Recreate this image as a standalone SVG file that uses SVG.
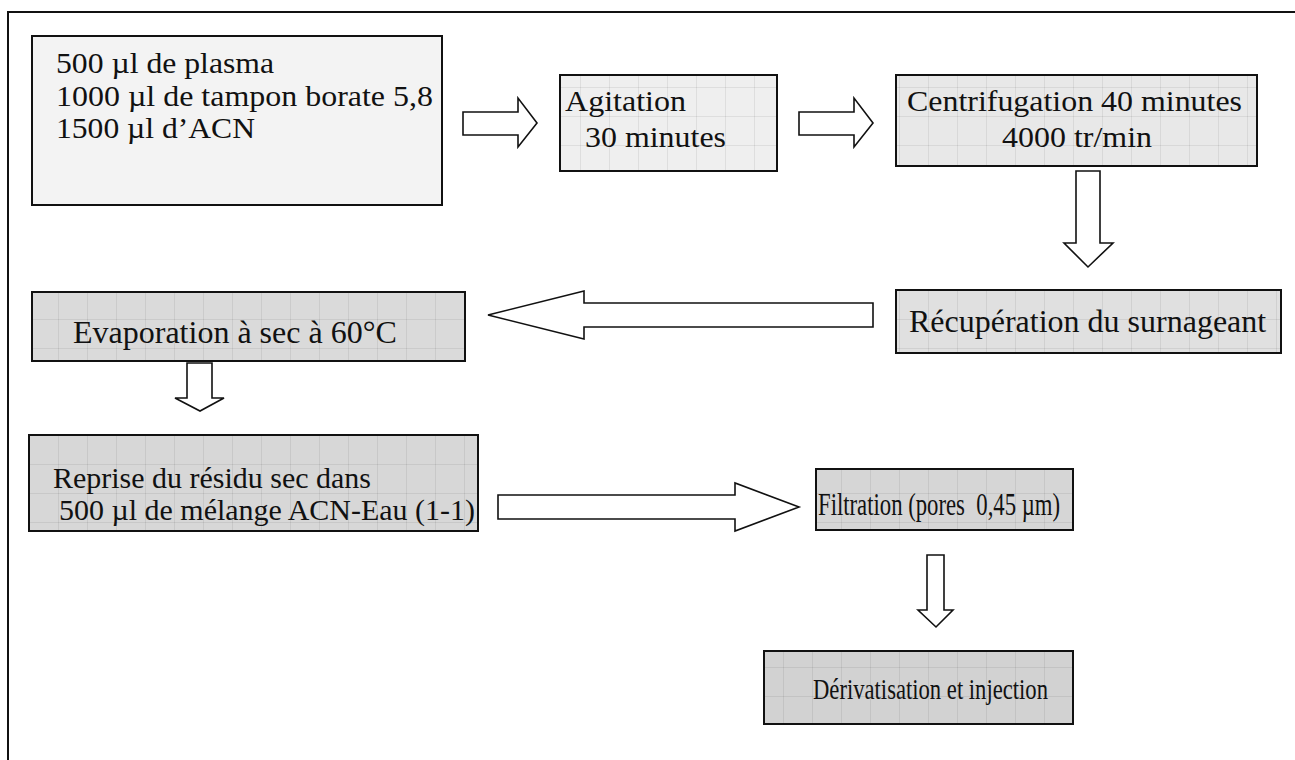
<svg xmlns="http://www.w3.org/2000/svg" width="1295" height="760" viewBox="0 0 1295 760">
  <defs>
    <!-- faint "small grid" fill texture used inside the step boxes -->
    <pattern id="grid" patternUnits="userSpaceOnUse" width="29" height="29">
      <path d="M0 0.5 H29 M0.5 0 V29" fill="none" stroke="#000" stroke-opacity="0.07" stroke-width="1"/>
    </pattern>
    <style>
      .box { stroke: #111; stroke-width: 2; }
      .grid { fill: url(#grid); stroke: none; }
      .arrow { fill: #fff; stroke: #111; stroke-width: 1.6; stroke-linejoin: miter; }
      .lbl { font-family: "Liberation Serif", "Times New Roman", serif; font-size: 32px; fill: #111; }
      .ml { font-size: 29px; }
    </style>
  </defs>

  <rect width="1295" height="760" fill="#fff"/>
  <!-- page frame -->
  <rect x="8" y="12" width="1300" height="760" fill="none" stroke="#111" stroke-width="2"/>

  <g id="connectors">
    <polygon class="arrow" points="463,112 518,112 518,98 537,123 518,147 518,135 463,135"/>
    <polygon class="arrow" points="799,112 854,112 854,98 873,123 854,147 854,135 799,135"/>
    <polygon class="arrow" points="1076,171 1100,171 1100,243 1113,243 1088,267 1064,243 1076,243"/>
    <polygon class="arrow" points="873,303 873,327 584,327 584,339 488,315 584,291 584,303"/>
    <polygon class="arrow" points="187,363 212,363 212,398 224,398 200,411 175,398 187,398"/>
    <polygon class="arrow" points="498,495 735,495 735,483 799,507 735,531 735,519 498,519"/>
    <polygon class="arrow" points="927,555 944,555 944,610 953,610 936,627 918,610 927,610"/>
  </g>

  <g id="mix">
    <rect class="box" x="32" y="36" width="410" height="169" fill="#f3f3f3"/>
    <text class="lbl ml" x="56" y="73" textLength="218" lengthAdjust="spacingAndGlyphs">500 µl de plasma</text>
    <text class="lbl ml" x="56" y="106" textLength="377" lengthAdjust="spacingAndGlyphs">1000 µl de tampon borate 5,8</text>
    <text class="lbl ml" x="56" y="138" textLength="199" lengthAdjust="spacingAndGlyphs">1500 µl d’ACN</text>
  </g>

  <g id="agitation">
    <rect class="box" x="560" y="75" width="217" height="96" fill="#efefef"/>
    <rect class="grid" x="561" y="76" width="215" height="94"/>
    <text class="lbl ml" x="565" y="111" textLength="121" lengthAdjust="spacingAndGlyphs">Agitation</text>
    <text class="lbl ml" x="585" y="147" textLength="141" lengthAdjust="spacingAndGlyphs">30 minutes</text>
  </g>

  <g id="centrifugation">
    <rect class="box" x="896" y="75" width="361" height="91" fill="#e8e8e8"/>
    <rect class="grid" x="897" y="76" width="359" height="89"/>
    <text class="lbl ml" x="907" y="111" textLength="335" lengthAdjust="spacingAndGlyphs">Centrifugation 40 minutes</text>
    <text class="lbl ml" x="1002" y="147" textLength="150" lengthAdjust="spacingAndGlyphs">4000 tr/min</text>
  </g>

  <g id="supernatant">
    <rect class="box" x="896" y="290" width="385" height="63" fill="#e0e0e0"/>
    <rect class="grid" x="897" y="291" width="383" height="61"/>
    <text class="lbl" x="909" y="332">Récupération du surnageant</text>
  </g>

  <g id="evaporation">
    <rect class="box" x="32" y="292" width="433" height="69" fill="#dadada"/>
    <rect class="grid" x="33" y="293" width="431" height="67"/>
    <text class="lbl" x="73" y="343">Evaporation à sec à 60°C</text>
  </g>

  <g id="reprise">
    <rect class="box" x="29" y="435" width="449" height="96" fill="#d7d7d7"/>
    <rect class="grid" x="30" y="436" width="447" height="94"/>
    <text class="lbl ml" x="53" y="488" textLength="318" lengthAdjust="spacingAndGlyphs">Reprise du résidu sec dans</text>
    <text class="lbl ml" x="59" y="520" textLength="416" lengthAdjust="spacingAndGlyphs">500 µl de mélange ACN-Eau (1-1)</text>
  </g>

  <g id="filtration">
    <rect class="box" x="816" y="469" width="257" height="61" fill="#d6d6d6"/>
    <rect class="grid" x="817" y="470" width="255" height="59"/>
    <text class="lbl" x="818" y="515" xml:space="preserve" textLength="242" lengthAdjust="spacingAndGlyphs">Filtration (pores  0,45 µm)</text>
  </g>

  <g id="injection">
    <rect class="box" x="764" y="651" width="309" height="73" fill="#d2d2d2"/>
    <rect class="grid" x="765" y="652" width="307" height="71"/>
    <text class="lbl" x="813" y="699" style="font-size:30px" textLength="235" lengthAdjust="spacingAndGlyphs">Dérivatisation et injection</text>
  </g>
</svg>
